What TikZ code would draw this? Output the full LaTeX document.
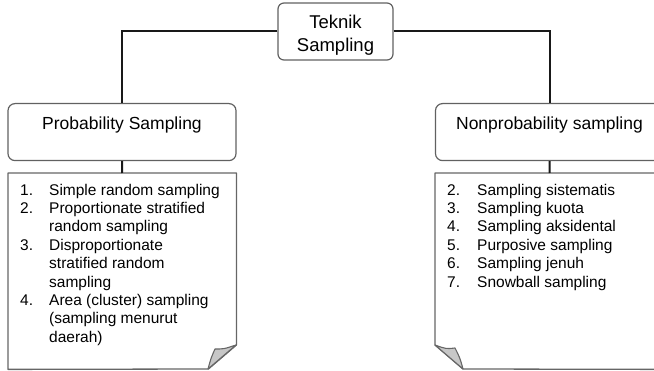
\documentclass[tikz,border=0pt]{standalone}
\usepackage{fontspec}
\setmainfont{Liberation Sans}
\usepackage{array}

\begin{document}
\begin{tikzpicture}[
		x=1pt, y=-1pt,
		every node/.style={inner sep=0pt},
		topbox/.style={draw=black!62, line width=1.2pt, rounded corners=6pt, minimum width=115pt, minimum height=57pt, align=center, font=\fontsize{18.5}{22.4}\selectfont},
		groupbox/.style={draw=black!62, line width=1.2pt, rounded corners=7pt, minimum width=228pt, text height=13pt, text depth=18pt, inner ysep=13pt, font=\fontsize{17.5}{21}\selectfont},
		listbox/.style={inner xsep=12pt, inner ysep=0pt, text height=22pt, text depth=174pt, font=\fontsize{15.5}{18.4}\selectfont},
		docline/.style={draw=black!60, line width=1.3pt, line join=round},
		fold/.style={draw=black!60, fill=black!22, line width=1.1pt, line join=round},
		conn/.style={draw=black!90, line width=2pt}
	]
  \useasboundingbox (0,0) rectangle (654,371);
  \node (teknik) [topbox] at (335.5,31.5) {\rule{0pt}{21pt}Teknik\\Sampling};
  \node (prob) [groupbox, anchor=north] at (122,103) {Probability Sampling};
  \node (nonprob) [groupbox, anchor=north] at (549.5,103) {Nonprobability sampling};
  \node (problist) [listbox, anchor=north west] at (8,173) {%
    \begin{tabular}[t]{@{}p{29pt}@{}p{175pt}@{}}
      1. & Simple random sampling\\
      2. & Proportionate stratified\\
         & random sampling\\
      3. & Disproportionate\\
         & stratified random\\
         & sampling\\
      4. & Area (cluster) sampling\\
         & (sampling menurut\\
         & daerah)
    \end{tabular}};
  \node (nonproblist) [listbox, anchor=north west] at (435,173) {%
    \begin{tabular}[t]{@{}p{30pt}@{}p{175pt}@{}}
      2. & Sampling sistematis\\
      3. & Sampling kuota\\
      4. & Sampling aksidental\\
      5. & Purposive sampling\\
      6. & Sampling jenuh\\
      7. & Snowball sampling
    \end{tabular}};
  % folded sheets
  \draw[docline] (problist.north west) -- (problist.north east) -- ++(0,172) -- ++(-28,24) -- (problist.south west) -- cycle;
  \filldraw[fold] (208,369) .. controls (211,358) .. (215,349) .. controls (224,349) .. (236,345) -- cycle;
  \draw[docline] (nonproblist.north east) -- (nonproblist.north west) -- ++(0,172) -- ++(28,24) -- (nonproblist.south east) -- cycle;
  \filldraw[fold] (463,369) .. controls (460,358) .. (455,348) .. controls (446,349) .. (435,345) -- cycle;
  % connectors
  \draw[conn] (teknik.west) -| (prob.north);
  \draw[conn] (teknik.east) -| (nonprob.north);
  \draw[conn] (prob.south) -- (problist.north);
  \draw[conn] (nonprob.south) -- (nonproblist.north);
\end{tikzpicture}
\end{document}
